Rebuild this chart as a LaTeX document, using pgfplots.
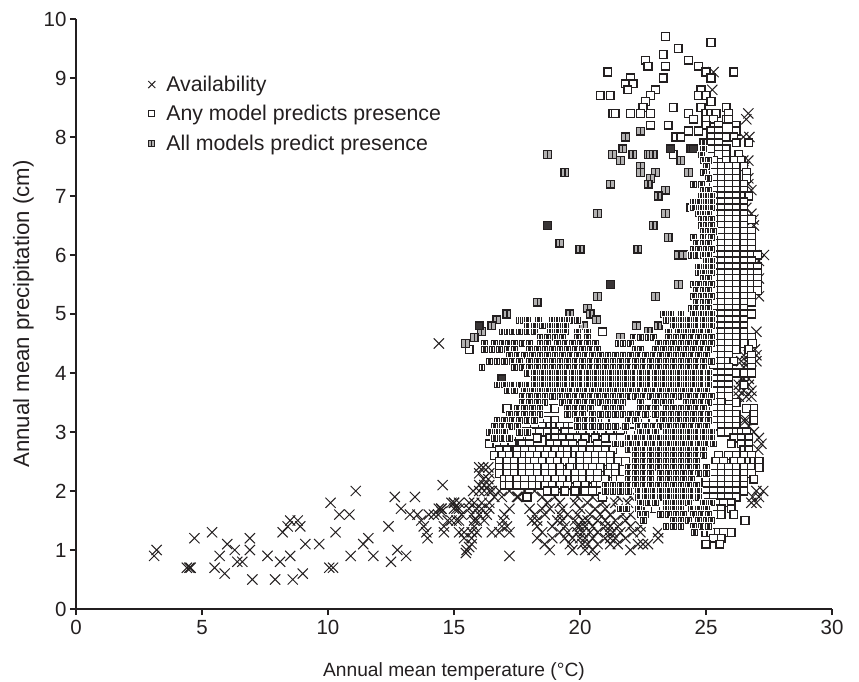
\documentclass[border=0pt]{standalone}
\usepackage{fontspec}
\setmainfont{Liberation Sans}
\usepackage{pgfplots}
\pgfplotsset{compat=1.18}
\definecolor{ink}{HTML}{231F20}
\pgfdeclareplotmark{anym}{\pgfpathrectangle{\pgfpoint{-\pgfplotmarksize}{-\pgfplotmarksize}}{\pgfpoint{2\pgfplotmarksize}{2\pgfplotmarksize}}\pgfsetfillcolor{white}\pgfusepathqfillstroke}
\pgfdeclareplotmark{allm}{\pgfpathrectangle{\pgfpoint{-\pgfplotmarksize}{-\pgfplotmarksize}}{\pgfpoint{2\pgfplotmarksize}{2\pgfplotmarksize}}\pgfsetfillcolor{ink!35}\pgfusepathqfillstroke\pgfpathmoveto{\pgfpoint{0pt}{-\pgfplotmarksize}}\pgfpathlineto{\pgfpoint{0pt}{\pgfplotmarksize}}\pgfusepathqstroke}
\pgfdeclareplotmark{allk}{\pgfpathrectangle{\pgfpoint{-\pgfplotmarksize}{-\pgfplotmarksize}}{\pgfpoint{2\pgfplotmarksize}{2\pgfplotmarksize}}\pgfsetfillcolor{ink!90}\pgfusepathqfillstroke}
\pgfdeclareplotmark{allq}{\pgfpathrectangle{\pgfpoint{-\pgfplotmarksize}{-\pgfplotmarksize}}{\pgfpoint{2\pgfplotmarksize}{2\pgfplotmarksize}}\pgfsetfillcolor{ink}\pgfusepathqfillstroke\pgfsetstrokecolor{white}\pgfsetlinewidth{0.55pt}\pgfpathmoveto{\pgfpoint{-1.9pt}{-2.6pt}}\pgfpathlineto{\pgfpoint{-1.9pt}{2.6pt}}\pgfpathmoveto{\pgfpoint{1.9pt}{-2.6pt}}\pgfpathlineto{\pgfpoint{1.9pt}{2.6pt}}\pgfusepathqstroke}
\begin{document}
\begin{tikzpicture}
\useasboundingbox (-76pt,-72pt) rectangle (783pt,609pt);
\begin{axis}[
 scale only axis, width=756pt, height=590pt, xmin=0, xmax=30, ymin=0, ymax=10,
 axis x line*=bottom, axis y line*=left, axis line style={-, line width=1.4pt, ink},
 xtick={0,5,...,30}, ytick={0,1,...,10}, tick align=outside, major tick length=6pt,
 tick style={line width=1.2pt, ink},
 /pgf/number format/assume math mode=true,
 tick label style={font=\fontsize{20.5}{22}\selectfont, text=ink},
 xticklabel style={yshift=-2pt},
 xlabel={Annual mean temperature (°C)}, ylabel={Annual mean precipitation (cm)},
 xlabel style={yshift=-21pt, font=\fontsize{19.2}{22}\selectfont, text=ink},
 ylabel style={yshift=3pt, font=\fontsize{22.2}{24}\selectfont, text=ink},
 clip=false,
 legend style={at={(axis cs:2.86,9.07)}, anchor=north west, draw=none, fill=none, font=\fontsize{21.3}{24}\selectfont, text=ink, row sep=8.5pt, inner sep=0pt, /tikz/column 1/.style={column sep=9pt}},
 legend cell align=left,
]
\addplot[only marks, mark=x, mark size=7.2pt, ink, line width=1pt, mark options={solid}, legend image post style={mark size=5pt}] coordinates {
(3.1,.9)(3.2,1)(4.4,.7)(4.5,.7)(4.55,.7)(4.7,1.2)(5.4,1.3)(5.5,.7)(5.7,.9)(5.9,.6)(6,1.1)(6.3,1)(6.4,.8)(6.6,.8)(6.9,1.2)(6.9,1)(7,.5)(7.6,.9)(7.9,.5)(8.1,.8)(8.2,1.3)(8.4,1.4)(8.5,.9)(8.5,1.5)(8.6,.5)(8.8,1.5)(8.9,1.4)(9,.6)(9.1,1.1)(9.65,1.1)(10.05,.7)(10.2,.7)(10.1,1.8)(10.3,1.3)(10.45,1.6)(10.85,1.6)(10.9,.9)(11.1,2)(11.4,1.1)(11.6,1.2)(11.8,.9)(12.4,1.4)(12.5,.8)(12.65,1.9)(12.75,1)(12.9,1.7)(13.1,.9)(13.25,1.6)(13.45,1.9)(13.55,1.6)(13.7,1.5)(13.8,1.4)(13.9,1.3)(13.95,1.2)(14,1.6)(14.2,1.6)(14.4,1.7)(14.5,1.7)(14.37,1.6)(14.55,2.1)(14.6,1.4)(14.5,1.65)(14.75,1.5)(14.9,1.8)(15,1.8)(15.1,1.5)(15.1,1.7)(14.4,4.5)
(16,2.4)(16.16,2.4)(16.36,2.4)(16,2.3)(16.4,2.3)(16.16,2.2)(16.36,2.2)(16,2.1)(16.2,2.1)(16.4,2.1)(16,2)(16.2,2)(16.4,2)(15.76,2)(16.6,1.9)(16.9,1.9)(17.2,2)(17.55,1.9)(18.5,1.9)(16.5,2)(16.8,2)(17.8,2)(18.2,2)(15,1.8)(15.2,1.8)(15.6,1.8)(15.8,1.8)(16.1,1.8)(16.4,1.8)(14.5,1.7)(15,1.7)(15.2,1.7)(15.6,1.7)(15.9,1.7)(16.1,1.7)(16.4,1.7)(17.2,1.7)(15.3,1.6)(15.7,1.6)(16,1.6)(16.3,1.6)(17,1.6)(14.9,1.5)(15.2,1.5)(15.8,1.5)(15.9,1.5)(16.2,1.5)(16.95,1.5)(15.8,1.4)(16.9,1.4)(17.1,1.4)(14.6,1.3)(15.2,1.3)(15.4,1.3)(15.7,1.3)(15.9,1.3)(16.5,1.3)(16.8,1.3)(17.2,1.3)(15.4,1.2)(15.7,1.2)(15.7,1.1)(15.5,1)(15.6,1.05)(17.2,.9)(15.47,.95)
(17.5,1.9)(19,1.9)(19.9,1.9)(20.5,1.9)(21.5,1.9)(22,1.9)(18.7,1.8)(19.2,1.8)(19.8,1.8)(20.3,1.8)(20.9,1.8)(21.4,1.8)(21.9,1.8)(18,1.7)(18.5,1.7)(18.8,1.7)(19.3,1.7)(20,1.7)(20.6,1.7)(21,1.7)(21.5,1.7)(18.2,1.6)(18.6,1.6)(19.2,1.6)(19.5,1.6)(19.9,1.6)(20.4,1.6)(20.8,1.6)(21.2,1.6)(21.7,1.6)(22,1.6)(18.1,1.5)(18.3,1.5)(19.1,1.5)(19.3,1.5)(19.8,1.5)(20.1,1.5)(20.3,1.5)(20.7,1.5)(21,1.5)(21.4,1.5)(21.8,1.5)(18.3,1.4)(18.9,1.4)(19.4,1.4)(19.9,1.4)(20,1.4)(20.2,1.4)(20.5,1.4)(21,1.4)(21.2,1.4)(21.5,1.4)(22,1.4)(22.4,1.4)(18.5,1.3)(19.2,1.3)(19.5,1.3)(19.9,1.3)(20.1,1.3)(20.4,1.3)(20.7,1.3)(21.1,1.3)(21.3,1.3)(21.6,1.3)(22.1,1.3)(22.4,1.3)(23.1,1.3)(18.9,1.2)(19.4,1.2)(19.7,1.2)(20,1.2)(20.2,1.2)(20.5,1.2)(21,1.2)(21.2,1.2)(21.4,1.2)(21.8,1.2)(23.1,1.2)(18.3,1.2)(18.6,1.1)(19.6,1.1)(20.1,1.1)(20.3,1.1)(20.7,1.1)(21.2,1.1)(21.5,1.1)(22.3,1.1)(22.5,1.1)(22.7,1.1)(18.8,1)(19.7,1)(20.2,1)(20.5,1)(22,1)(20.6,.9)
(25.3,9.1)(25.25,8.8)(26.68,8.4)(26.6,8.3)(26.48,8)(26.72,8)(26.68,7.6)(26.48,7.6)(26.3,7.5)(26.55,7.5)(26.68,7.3)(26.35,7.2)(26.68,7.2)(26.8,7.1)(26.6,6.8)(26.8,6.7)(26.88,6.6)(26.9,6.5)(27.3,6)(27.1,5.9)(27.1,5.6)(27.1,5.3)(27,4.7)(26.94,4.4)(27,4.3)(27,4.2)(26.5,4.3)(26.7,4.3)(26.4,4.2)(26.6,4.2)(26.8,4.2)(26.5,4.1)(26.7,4.1)(26.7,3.9)(26.4,3.9)(26.5,3.9)(26.3,3.8)(26.5,3.8)(26.7,3.8)(26.3,3.7)(26.5,3.7)(26.8,3.7)(26.3,3.6)(26.6,3.6)(26.8,3.6)(26.6,3.2)(26.5,3.2)(26.7,3.1)(26.9,3)(27.1,2.9)(27.2,2.8)(27.07,2.7)(27.27,2)(27,2)(26.85,1.9)(26.8,1.8)(27,1.8)(27.1,1.9)
};
\addlegendentry{Availability}
\addplot[only marks, mark=anym, mark size=3.9pt, ink, line width=1.4pt, legend image post style={mark size=3pt, line width=1pt}] coordinates {
(23.4,9.7)(23.9,9.5)(25.2,9.6)(23.3,9.4)(22.6,9.3)(22.7,9.2)(23.4,9.2)(24.3,9.3)(24.7,9.2)(25,9.1)(26.1,9.1)(21.1,9.1)(25.2,9)(22,9)(21.8,8.9)(22.1,8.9)(23.3,9)(21.9,8.8)(23,8.8)(24.8,8.8)(22.8,8.7)(20.8,8.7)(21.2,8.7)(24.7,8.7)(25,8.7)(22.6,8.6)(25.2,8.6)(22.5,8.5)(23.7,8.5)(24.8,8.5)(25.8,8.5)(21.3,8.4)(21.4,8.4)(22,8.4)(22.4,8.4)(22.8,8.4)(24.3,8.4)(25,8.4)(25.2,8.4)(25.4,8.4)(25.9,8.4)(24.5,8.3)(25.8,8.3)(25.9,8.3)(25,8.3)(25.3,8.3)(22.8,8.2)(23.5,8.2)(25,8.2)(25.5,8.2)(26.2,8.2)(24.3,8.1)(24.7,8.1)(25.2,8.1)(25.5,8.1)(26.2,8.1)(23.8,8)(24,8)(25.2,8)(25.5,8)(25.8,8)(26.1,8)
(25.2,7.9)(25.5,7.9)(26.2,7.9)(26.7,7.9)(25.2,7.8)(25.5,7.8)(25.8,7.8)(23.7,7.7)(25.5,7.7)(25.8,7.7)(26.3,7.7)(25.3,7.6)(25.8,7.6)(26.1,7.6)(26.4,7.6)(25.3,7.5)(25.6,7.5)(25.9,7.5)(26.2,7.5)(26.5,7.5)(25.3,7.4)(25.6,7.4)(25.9,7.4)(26.2,7.4)(26.6,7.4)(25.3,7.3)(25.6,7.3)(25.9,7.3)(26.2,7.3)(26.6,7.3)(25.3,7.2)(25.6,7.2)(25.9,7.2)(26.2,7.2)(26.5,7.2)
(25.3,7.1)(25.6,7.1)(25.9,7.1)(26.2,7.1)(26.5,7.1)(25.3,7)(25.6,7)(25.9,7)(26.2,7)(26.5,7)(26.7,7)(25.3,6.9)(25.6,6.9)(25.9,6.9)(26.2,6.9)(26.5,6.9)(24.4,6.8)(25.3,6.8)(25.6,6.8)(25.9,6.8)(26.2,6.8)(26.5,6.8)(25.3,6.7)(25.6,6.7)(25.9,6.7)(26.2,6.7)(26.5,6.7)(25.3,6.6)(25.6,6.6)(25.9,6.6)(26.2,6.6)(26.5,6.6)(26.8,6.6)(25.3,6.5)(25.6,6.5)(25.9,6.5)(26.2,6.5)(26.5,6.5)(25.3,6.4)(25.6,6.4)(25.9,6.4)(26.2,6.4)(26.5,6.4)(26.8,6.4)(25.3,6.3)(25.6,6.3)(25.9,6.3)(26.2,6.3)(26.5,6.3)(26.8,6.3)(25.3,6.2)(25.6,6.2)(25.9,6.2)(26.2,6.2)(26.5,6.2)(26.8,6.2)(25.3,6.1)(25.6,6.1)(25.9,6.1)(26.2,6.1)(26.5,6.1)(26.8,6.1)(25.3,6)(25.6,6)(25.9,6)(26.2,6)(26.5,6)(26.8,6)(27.05,6)(25.3,5.9)(25.6,5.9)(25.9,5.9)(26.2,5.9)(26.5,5.9)(26.8,5.9)(25.3,5.8)(25.6,5.8)(25.9,5.8)(26.2,5.8)(26.5,5.8)(26.8,5.8)(27.05,5.8)(25.3,5.7)(25.6,5.7)(25.9,5.7)(26.2,5.7)(26.5,5.7)(26.8,5.7)(27.05,5.7)(25.3,5.6)(25.6,5.6)(25.9,5.6)(26.2,5.6)(26.5,5.6)(26.8,5.6)(27.05,5.6)(25.3,5.5)(25.6,5.5)(25.9,5.5)(26.2,5.5)(26.5,5.5)(26.8,5.5)(27.05,5.5)(25.3,5.4)(25.6,5.4)(25.9,5.4)(26.2,5.4)(26.5,5.4)(26.8,5.4)(27.05,5.4)
(25.3,5.3)(25.6,5.3)(25.9,5.3)(26.2,5.3)(26.5,5.3)(26.8,5.3)(25.3,5.2)(25.6,5.2)(25.9,5.2)(26.2,5.2)(26.5,5.2)(26.8,5.2)(25.3,5.1)(25.6,5.1)(25.9,5.1)(26.2,5.1)(26.5,5.1)(25.3,5)(25.6,5)(25.9,5)(26.2,5)(26.5,5)(26.8,5)(25.3,4.9)(25.6,4.9)(25.9,4.9)(26.2,4.9)(26.5,4.9)(25.3,4.8)(25.6,4.8)(25.9,4.8)(26.2,4.8)(26.5,4.8)(25.3,4.7)(25.6,4.7)(25.9,4.7)(26.2,4.7)(26.5,4.7)(20.9,4.7)(25.3,4.6)(25.6,4.6)(25.9,4.6)(26.2,4.6)(26.5,4.6)(26.8,4.6)(25.3,4.5)(25.6,4.5)(25.9,4.5)(26.2,4.5)(26.5,4.5)(26.85,4.5)(15.6,4.4)(25.3,4.4)(25.6,4.4)(25.9,4.4)(26.2,4.4)(26.7,4.4)(25.3,4.3)(25.6,4.3)(25.9,4.3)(26.8,4.3)(25.3,4.2)(25.6,4.2)(25.9,4.2)(26.1,4.2)(26.8,4.2)(25.3,4.1)(25.6,4.1)(25.9,4.1)(26.8,4.1)(25.3,4)(25.6,4)(25.9,4)(26.2,4)(26.5,4)(26.8,4)(25.3,3.9)(25.6,3.9)(25.9,3.9)(25.3,3.8)(25.6,3.8)(25.9,3.8)(26.5,3.8)(25.3,3.7)(25.6,3.7)(25.9,3.7)(25.3,3.6)(25.6,3.6)(25.9,3.6)(25.3,3.5)(25.6,3.5)(26.2,3.5)(25.3,3.4)(25.6,3.4)(25.9,3.4)(26.9,3.4)(26.6,3.4)(25.3,3.3)(25.6,3.3)(25.9,3.3)(26.2,3.3)(26.9,3.3)(25.3,3.2)(25.6,3.2)(25.9,3.2)(26.2,3.2)(26.9,3.2)(25.3,3.1)(25.6,3.1)(25.9,3.1)(26.2,3.1)(25.6,3)(25.9,3)(26.2,3)(26.4,3)(26.6,3)(26.1,2.9)(26.4,2.9)(26.7,2.9)
(17.1,3.4)(18.7,3.4)(19,3.4)(18.4,3.2)(18.7,3.2)(19,3.2)(20.9,3.2)(21,3.2)(22.6,3.2)(22.9,3.2)(18.2,3.1)(18.5,3.1)(18.8,3.1)(19,3.1)(19.2,3.1)(19.5,3.1)(19.7,3.1)(17.8,3)(18.1,3)(18.4,3)(18.7,3)(19,3)(19.4,3)(19.7,3)(20.1,3)(20.4,3)(20.85,3)(21.2,3)(21.6,3)(22,3)(17.6,2.9)(18,2.9)(18.3,2.9)(18.8,2.9)(19,2.9)(19.3,2.9)(19.6,2.9)(19.9,2.9)(20.2,2.9)(20.6,2.9)(21,2.9)(21.3,2.9)(21.6,2.9)(16.4,2.8)(16.7,2.8)(17,2.8)(17.3,2.8)(17.7,2.8)(18,2.8)(18.8,2.8)(19.1,2.8)(19.4,2.8)(19.7,2.8)(20.1,2.8)(20.7,2.8)(26,2.8)(26.4,2.8)(26.7,2.8)(16.8,2.7)(17.1,2.7)(17.5,2.7)(17.8,2.7)(18.1,2.7)(18.4,2.7)(18.7,2.7)(19,2.7)(19.3,2.7)(19.5,2.7)(19.8,2.7)(20.1,2.7)(20.4,2.7)(20.7,2.7)(21,2.7)(21.3,2.7)(26.5,2.7)(26.7,2.7)(16.6,2.6)(16.9,2.6)(17.2,2.6)(17.5,2.6)(17.8,2.6)(18,2.6)(18.3,2.6)(18.6,2.6)(18.9,2.6)(19.2,2.6)(19.5,2.6)(19.8,2.6)(20,2.6)(20.3,2.6)(20.6,2.6)(20.9,2.6)(21.2,2.6)(25.5,2.6)(25.9,2.6)(26.2,2.6)(26.5,2.6)(26.8,2.6)(16.8,2.5)(17.1,2.5)(17.4,2.5)(17.7,2.5)(18,2.5)(18.2,2.5)(18.5,2.5)(18.8,2.5)(19.1,2.5)(19.4,2.5)(19.7,2.5)(20,2.5)(20.3,2.5)(20.6,2.5)(20.9,2.5)(21.2,2.5)(21.5,2.5)(21.8,2.5)(25.4,2.5)(25.7,2.5)(26.1,2.5)(26.4,2.5)(26.7,2.5)(26.9,2.5)(27.1,2.5)(16.8,2.4)(17.1,2.4)(17.4,2.4)(17.7,2.4)(18,2.4)(18.3,2.4)(18.6,2.4)(18.9,2.4)(19.2,2.4)(19.6,2.4)(19.9,2.4)(20,2.4)(20.3,2.4)(20.5,2.4)(20.8,2.4)(21.2,2.4)(21.4,2.4)(25.3,2.4)(25.6,2.4)(25.9,2.4)(26.2,2.4)(26.5,2.4)(26.8,2.4)(27.1,2.4)(16.8,2.3)(17.1,2.3)(17.4,2.3)(17.7,2.3)(18,2.3)(18.3,2.3)(18.6,2.3)(18.9,2.3)(19.2,2.3)(19.5,2.3)(19.8,2.3)(20.1,2.3)(20.4,2.3)(20.7,2.3)(21.1,2.3)(21.4,2.3)(25.3,2.3)(25.6,2.3)(25.9,2.3)(26.2,2.3)(26.5,2.3)(26.8,2.3)(17,2.2)(17.2,2.2)(17.5,2.2)(17.8,2.2)(18.1,2.2)(18.4,2.2)(18.7,2.2)(19,2.2)(19.3,2.2)(19.6,2.2)(19.8,2.2)(20.1,2.2)(20.4,2.2)(20.7,2.2)(21,2.2)(21.4,2.2)(21.6,2.2)(24.7,2.2)(25,2.2)(25.3,2.2)(25.6,2.2)(25.9,2.2)(26.2,2.2)(26.5,2.2)(26.9,2.2)(17,2.1)(17.2,2.1)(17.5,2.1)(17.8,2.1)(18.1,2.1)(18.4,2.1)(18.6,2.1)(18.9,2.1)(19.2,2.1)(19.5,2.1)(19.9,2.1)(20.2,2.1)(20.6,2.1)(20.8,2.1)(25,2.1)(25.3,2.1)(25.6,2.1)(25.9,2.1)(26.2,2.1)(26.5,2.1)(18.7,2)(19,2)(19.4,2)(19.8,2)(20.2,2)(20.5,2)(20.8,2)(25,2)(25.3,2)(25.6,2)(25.9,2)(26.2,2)(26.5,2)(17.9,1.9)(20.9,1.9)(25,1.9)(25.3,1.9)(25.6,1.9)(25.9,1.9)(26.2,1.9)(25.1,1.8)(25.4,1.8)(25.7,1.8)(26,1.8)(22.7,1.7)(23,1.7)(25.3,1.7)(25.6,1.7)(26,1.7)(26.1,1.6)(25.3,1.6)(25.6,1.6)(26.55,1.5)(25.2,1.5)(25,1.3)(25.2,1.3)(25.5,1.3)(25.7,1.3)(26,1.3)(25.3,1.2)(25.6,1.2)(25,1.1)(25.55,1.1)
};
\addlegendentry{Any model predicts presence}
\addplot[only marks, mark=allm, mark size=3.9pt, ink, line width=1.25pt, legend image post style={mark size=3pt, line width=1pt}] coordinates {
(22.4,8.1)(21.8,8)(21.7,7.8)(18.7,7.7)(21.3,7.7)(22.1,7.7)(22.7,7.7)(22.8,7.7)(22.9,7.7)(21.6,7.6)(24,7.6)(22.4,7.5)(19.4,7.4)(22.4,7.4)(23,7.4)(24.3,7.4)(22.8,7.3)(21.2,7.2)(22.7,7.2)(23.4,7.1)(23.1,7)(20.7,6.7)(23.4,6.7)(22.9,6.5)(23.5,6.3)(19.2,6.2)(20,6.1)(22.3,6.1)(23.9,6)(24.1,6)(20.7,5.3)(23,5.3)(18.3,5.2)(20.3,5.1)(23.9,5.5)(17.1,5)(19.6,5)(20.4,5)(16.7,4.9)(20.66,4.9)(16.5,4.8)(20.13,4.8)(22.25,4.8)(23.1,4.8)(16.1,4.7)(22.7,4.7)(15.8,4.6)(21.6,4.6)(15.45,4.5)
};
\addlegendentry{All models predict presence}
\addplot[only marks, mark=allk, mark size=3.9pt, ink, line width=1.25pt, forget plot] coordinates {
(23.6,7.8)(24.4,7.8)(24.5,7.8)(18.7,6.5)(21.2,5.5)(16,4.8)(16.9,3.9)
};
\addplot[only marks, mark=allq, mark size=3.9pt, ink, line width=1.25pt, forget plot] coordinates {
(24.9,7.9)(24.9,7.8)(24.8,7.7)(24.9,7.6)(25.1,7.6)(25,7.5)(24.9,7.4)(25.1,7.3)(24.5,7.2)(24.8,7.2)(24.9,7.1)(25.1,7.1)(24.8,7)(25,7)(25.2,7)(24.5,6.9)(24.7,6.9)(25,6.9)(25.2,6.9)(24.5,6.8)(24.8,6.8)(25,6.8)(25.2,6.8)(24.7,6.7)(24.9,6.7)(25.1,6.7)(24.8,6.6)(25,6.6)(25.2,6.6)(24.8,6.5)(25,6.5)(25.2,6.5)(24.9,6.4)(25.1,6.4)(25.3,6.4)(24.5,6.3)(24.9,6.3)(25.1,6.3)(25.2,6.3)(24.6,6.2)(24.9,6.2)(25.1,6.2)(24.5,6.1)(24.7,6.1)(25,6.1)(25.2,6.1)(24.4,6)(24.6,6)(24.9,6)(25.1,6)(25,5.9)(25.2,5.9)(24.7,5.8)(25,5.8)(25.2,5.8)(24.7,5.7)(24.9,5.7)(25.2,5.7)(24.9,5.6)(25.1,5.6)(24.5,5.5)(24.7,5.5)(25,5.5)(25.2,5.5)(24.6,5.4)(24.9,5.4)(25.1,5.4)(24.5,5.3)(24.8,5.3)(25,5.3)(25.2,5.3)(24.6,5.2)(24.9,5.2)(25.1,5.2)(24.4,5.1)(24.6,5.1)(24.9,5.1)(25.1,5.1)
(23.3,5)(23.6,5)(24,5)(24.5,5)(24.8,5)(25,5)(25.2,5)(17.6,4.9)(17.75,4.9)(17.9,4.9)(18.34,4.9)(18.9,4.9)(19.1,4.9)(19.3,4.9)(19.5,4.9)(19.7,4.9)(19.9,4.9)(23.4,4.9)(23.7,4.9)(24,4.9)(24.3,4.9)(24.6,4.9)(24.9,4.9)(25.2,4.9)(17.9,4.8)(18.2,4.8)(18.5,4.8)(18.8,4.8)(19.1,4.8)(19.4,4.8)(23.7,4.8)(24,4.8)(24.3,4.8)(24.6,4.8)(24.9,4.8)(25.2,4.8)(16.9,4.7)(17.1,4.7)(17.3,4.7)(17.6,4.7)(17.9,4.7)(18.2,4.7)(18.8,4.7)(19.1,4.7)(19.4,4.7)(19.9,4.7)(20.3,4.7)(23.5,4.7)(23.9,4.7)(24.2,4.7)(24.5,4.7)(24.8,4.7)(25.1,4.7)(18.4,4.6)(18.7,4.6)(19,4.6)(19.3,4.6)(19.9,4.6)(20.3,4.6)(22.1,4.6)(22.4,4.6)(22.7,4.6)(22.9,4.6)(23.5,4.6)(23.8,4.6)(24.1,4.6)(24.4,4.6)(24.7,4.6)(25,4.6)(25.2,4.6)(16.2,4.5)(16.6,4.5)(16.9,4.5)(17.15,4.5)(17.4,4.5)(17.7,4.5)(18,4.5)(18.4,4.5)(18.7,4.5)(19.1,4.5)(19.4,4.5)(19.7,4.5)(20,4.5)(20.3,4.5)(20.6,4.5)(21.5,4.5)(21.7,4.5)(22,4.5)(23.1,4.5)(23.4,4.5)(23.7,4.5)(24,4.5)(24.3,4.5)(24.6,4.5)(24.9,4.5)(25.2,4.5)
(16.2,4.4)(16.5,4.4)(16.8,4.4)(17.1,4.4)(17.4,4.4)(18,4.4)(18.3,4.4)(18.6,4.4)(18.9,4.4)(19.2,4.4)(19.5,4.4)(19.8,4.4)(20.1,4.4)(20.4,4.4)(20.7,4.4)(22.2,4.4)(22.4,4.4)(23,4.4)(23.3,4.4)(23.6,4.4)(23.9,4.4)(24.2,4.4)(24.5,4.4)(24.8,4.4)(25.1,4.4)
(17.2,4.3)(17.5,4.3)(17.8,4.3)(18.1,4.3)(18.4,4.3)(18.7,4.3)(19,4.3)(19.3,4.3)(19.6,4.3)(19.9,4.3)(20.2,4.3)(20.5,4.3)(20.8,4.3)(21.1,4.3)(21.4,4.3)(21.7,4.3)(22,4.3)(22.3,4.3)(22.6,4.3)(22.9,4.3)(23.2,4.3)(23.5,4.3)(23.8,4.3)(24.1,4.3)(24.4,4.3)(24.7,4.3)(25,4.3)
(16.4,4.2)(16.7,4.2)(17,4.2)(17.3,4.2)(17.6,4.2)(18,4.2)(18.3,4.2)(18.6,4.2)(18.9,4.2)(19.2,4.2)(19.5,4.2)(19.8,4.2)(20.1,4.2)(20.4,4.2)(20.7,4.2)(21,4.2)(21.3,4.2)(21.6,4.2)(21.9,4.2)(22.2,4.2)(22.5,4.2)(22.8,4.2)(23.1,4.2)(23.4,4.2)(23.7,4.2)(24,4.2)(24.3,4.2)(24.6,4.2)(24.9,4.2)(25.2,4.2)
(16.1,4.1)(17.4,4.1)(17.7,4.1)(18,4.1)(18.3,4.1)(18.6,4.1)(18.9,4.1)(19.2,4.1)(19.5,4.1)(19.8,4.1)(20.1,4.1)(20.4,4.1)(20.7,4.1)(21,4.1)(21.3,4.1)(21.6,4.1)(21.9,4.1)(22.2,4.1)(22.5,4.1)(22.8,4.1)(23.1,4.1)(23.4,4.1)(23.7,4.1)(24,4.1)(24.3,4.1)(24.6,4.1)(24.9,4.1)
(17.9,4)(18.2,4)(18.5,4)(18.8,4)(19.1,4)(19.4,4)(19.7,4)(20,4)(20.3,4)(20.6,4)(20.9,4)(21.2,4)(21.5,4)(21.8,4)(22.1,4)(22.4,4)(22.7,4)(23,4)(23.3,4)(23.6,4)(23.9,4)(24.2,4)(24.5,4)(24.8,4)(25.1,4)
(18.2,3.9)(18.5,3.9)(18.8,3.9)(19.1,3.9)(19.4,3.9)(19.7,3.9)(20,3.9)(20.3,3.9)(20.6,3.9)(20.9,3.9)(21.2,3.9)(21.5,3.9)(21.8,3.9)(22.1,3.9)(22.4,3.9)(22.7,3.9)(23,3.9)(23.3,3.9)(23.6,3.9)(23.9,3.9)(24.2,3.9)(24.5,3.9)(24.8,3.9)(25.1,3.9)
(16.7,3.8)(17,3.8)(17.3,3.8)(17.6,3.8)(17.9,3.8)(18.2,3.8)(18.5,3.8)(18.8,3.8)(19.1,3.8)(19.4,3.8)(19.7,3.8)(20,3.8)(20.3,3.8)(20.6,3.8)(20.9,3.8)(21.2,3.8)(21.5,3.8)(21.8,3.8)(22.1,3.8)(22.4,3.8)(22.7,3.8)(23,3.8)(23.3,3.8)(23.6,3.8)(23.9,3.8)(24.2,3.8)(24.5,3.8)(24.8,3.8)(25.1,3.8)
(17.1,3.7)(17.4,3.7)(17.8,3.7)(18.1,3.7)(18.4,3.7)(18.7,3.7)(19,3.7)(19.3,3.7)(19.6,3.7)(19.9,3.7)(20.2,3.7)(20.5,3.7)(20.8,3.7)(21.1,3.7)(21.4,3.7)(21.7,3.7)(22,3.7)(22.3,3.7)(22.6,3.7)(22.9,3.7)(23.2,3.7)(23.5,3.7)(23.8,3.7)(24.1,3.7)(24.4,3.7)(24.7,3.7)(25,3.7)
(17.7,3.6)(18,3.6)(18.3,3.6)(18.6,3.6)(18.9,3.6)(19.2,3.6)(19.5,3.6)(19.8,3.6)(20.1,3.6)(20.4,3.6)(20.7,3.6)(21,3.6)(21.3,3.6)(21.6,3.6)(21.9,3.6)(22.2,3.6)(22.5,3.6)(22.8,3.6)(23.1,3.6)(23.4,3.6)(23.7,3.6)(24,3.6)(24.3,3.6)(24.6,3.6)(24.9,3.6)(25.2,3.6)
(17.7,3.5)(18,3.5)(18.3,3.5)(18.6,3.5)(19.3,3.5)(19.6,3.5)(19.9,3.5)(20.2,3.5)(20.5,3.5)(20.8,3.5)(21.1,3.5)(21.4,3.5)(21.7,3.5)(22.4,3.5)(23,3.5)(23.3,3.5)(23.6,3.5)(24.2,3.5)(24.5,3.5)(24.8,3.5)(25.1,3.5)
(17.5,3.4)(17.8,3.4)(18.1,3.4)(18.4,3.4)(19.5,3.4)(19.8,3.4)(20.1,3.4)(20.4,3.4)(21,3.4)(21.3,3.4)(21.6,3.4)(22.4,3.4)(22.7,3.4)(23,3.4)(23.4,3.4)(23.7,3.4)(24,3.4)(24.3,3.4)(24.6,3.4)(24.9,3.4)
(17.2,3.3)(17.5,3.3)(17.8,3.3)(18.1,3.3)(18.4,3.3)(19.5,3.3)(19.8,3.3)(20.1,3.3)(20.5,3.3)(20.8,3.3)(21.1,3.3)(21.4,3.3)(21.7,3.3)(22,3.3)(22.3,3.3)(22.6,3.3)(23,3.3)(23.3,3.3)(23.6,3.3)(23.9,3.3)(24.2,3.3)(24.5,3.3)(24.8,3.3)(25.1,3.3)
(16.7,3.2)(17,3.2)(17.3,3.2)(17.6,3.2)(17.9,3.2)(18.2,3.2)(19.9,3.2)(20.2,3.2)(20.5,3.2)(21.9,3.2)(22.2,3.2)(23.3,3.2)(23.6,3.2)(23.9,3.2)(24.2,3.2)(24.5,3.2)(24.8,3.2)(25.1,3.2)
(16.6,3.1)(16.9,3.1)(17.2,3.1)(17.5,3.1)(19.9,3.1)(20.2,3.1)(20.5,3.1)(20.8,3.1)(21.1,3.1)(21.4,3.1)(21.8,3.1)(22.3,3.1)(22.6,3.1)(22.9,3.1)(23.2,3.1)(23.5,3.1)(23.8,3.1)(24.1,3.1)(24.4,3.1)(24.7,3.1)(25,3.1)
(16.4,3)(16.7,3)(17,3)(17.6,3)(17.9,3)(22.4,3)(22.7,3)(23,3)(23.4,3)(23.7,3)(24,3)(24.3,3)(24.6,3)(24.9,3)(25.2,3)
(16.6,2.9)(16.9,2.9)(17.2,2.9)(21.9,2.9)(22.2,2.9)(22.5,2.9)(22.8,2.9)(23.1,2.9)(23.4,2.9)(23.7,2.9)(24,2.9)(24.3,2.9)(24.6,2.9)(24.9,2.9)(25.2,2.9)
(21.4,2.8)(21.7,2.8)(22,2.8)(22.3,2.8)(22.6,2.8)(22.9,2.8)(23.2,2.8)(23.5,2.8)(23.8,2.8)(24.1,2.8)(24.4,2.8)(24.7,2.8)(25,2.8)(25.3,2.8)
(21.9,2.7)(22.2,2.7)(22.5,2.7)(22.8,2.7)(23.1,2.7)(23.4,2.7)(23.7,2.7)(24,2.7)(24.3,2.7)(24.6,2.7)(24.9,2.7)
(22.2,2.6)(22.5,2.6)(22.8,2.6)(23.1,2.6)(23.4,2.6)(23.7,2.6)(24,2.6)(24.3,2.6)(24.6,2.6)(24.9,2.6)
(22.2,2.5)(22.5,2.5)(22.8,2.5)(23.1,2.5)(23.4,2.5)(23.7,2.5)(24,2.5)(24.3,2.5)(24.6,2.5)
(21.9,2.4)(22.2,2.4)(22.5,2.4)(22.8,2.4)(23.1,2.4)(23.4,2.4)(23.7,2.4)(24,2.4)(24.3,2.4)(24.6,2.4)(25,2.4)
(21.9,2.3)(22.2,2.3)(22.5,2.3)(22.8,2.3)(23.2,2.3)(23.5,2.3)(23.8,2.3)(24.1,2.3)(24.4,2.3)(24.7,2.3)(25,2.3)
(21.9,2.2)(22.2,2.2)(22.5,2.2)(22.8,2.2)(23.2,2.2)(23.5,2.2)(23.8,2.2)(24.1,2.2)(24.4,2.2)
(21,2.1)(21.3,2.1)(21.6,2.1)(21.9,2.1)(22.2,2.1)(22.5,2.1)(22.8,2.1)(23.1,2.1)(23.4,2.1)(23.7,2.1)(24,2.1)(24.3,2.1)(24.6,2.1)
(21,2)(21.3,2)(21.6,2)(21.9,2)(22.3,2)(22.6,2)(22.9,2)(23.2,2)(23.5,2)(23.8,2)(24.1,2)(24.4,2)(24.7,2)
(22.3,1.9)(22.6,1.9)(22.9,1.9)(23.2,1.9)(23.5,1.9)(23.8,1.9)(24.1,1.9)(24.4,1.9)(24.7,1.9)
(22.4,1.8)(22.7,1.8)(23,1.8)(23.4,1.8)(23.7,1.8)(24,1.8)(24.3,1.8)(24.9,1.8)(25.2,1.8)
(21.6,1.7)(21.85,1.7)(22.3,1.7)(23.4,1.7)(23.7,1.7)(24,1.7)(24.4,1.7)(24.7,1.7)(25,1.7)
(22.4,1.6)(22.6,1.6)(23.2,1.6)(23.5,1.6)(23.8,1.6)(24.1,1.6)(24.5,1.6)(24.8,1.6)(25.1,1.6)
(22.5,1.5)(23.7,1.5)(24,1.5)(24.3,1.5)(24.7,1.5)(25,1.5)(25.2,1.5)
(23.4,1.4)(23.7,1.4)(24,1.4)(24.5,1.4)(24.8,1.4)(25.1,1.4)
(24.5,1.3)(24.55,1.3)
};
\end{axis}
\end{tikzpicture}
\end{document}
